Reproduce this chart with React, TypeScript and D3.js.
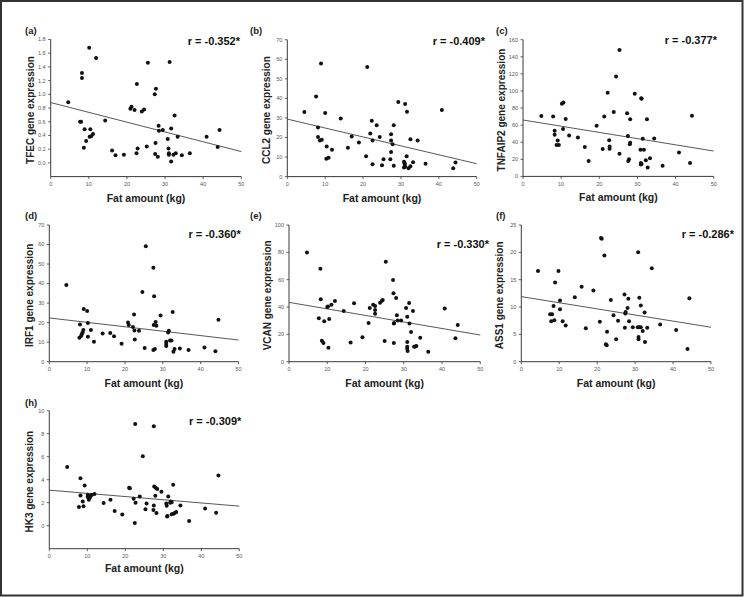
import React from 'react';
import * as d3 from 'd3';

type Pt = [number, number];

const panelLabels = ['(a)', '(b)', '(c)', '(d)', '(e)', '(f)', '(h)'];
const geneNames = ['TFEC', 'CCL2', 'TNFAIP2', 'IRF1', 'VCAN', 'ASS1', 'HK3'];
const rTexts = ['r = -0.352*', 'r = -0.409*', 'r = -0.377*', 'r = -0.360*', 'r = -0.330*', 'r = -0.286*', 'r = -0.309*'];
const yDomains: [number, number][] = [[-0.2, 1.8], [0, 70], [0, 160], [0, 70], [0, 100], [0, 25], [-2, 10]];
const yTickValues: number[][] = [
  [0, 0.2, 0.4, 0.6, 0.8, 1.0, 1.2, 1.4, 1.6, 1.8],
  [0, 10, 20, 30, 40, 50, 60, 70],
  [0, 20, 40, 60, 80, 100, 120, 140, 160],
  [0, 10, 20, 30, 40, 50, 60, 70],
  [0, 20, 40, 60, 80, 100],
  [0, 5, 10, 15, 20, 25],
  [0, 2, 4, 6, 8, 10],
];
const yTickFormats = ['.1f', 'd', 'd', 'd', 'd', 'd', 'd'];
const xTickValues = [0, 10, 20, 30, 40, 50];
const xLabel = 'Fat amount (kg)';
// regression line value at x = 0 and at x = 50
const fitAt0 = [0.88, 29.4, 66, 22.4, 43.4, 11.9, 3.09];
const fitAt50 = [0.165, 6.6, 29.7, 11.1, 19.5, 6.3, 1.7];

const tfec: Pt[] = [[4.6,0.885],[7.7,0.60],[8.0,0.60],[8.2,1.31],[8.2,1.24],[8.7,0.22],[8.9,0.49],[9.3,0.32],[10.1,1.68],[10.2,0.38],[10.4,0.49],[10.6,0.39],[11.1,0.42],[11.9,1.53],[14.3,0.62],[16.1,0.18],[17.0,0.11],[19.2,0.12],[20.9,0.79],[21.2,0.82],[22.0,0.77],[22.5,0.14],[22.6,1.15],[22.8,0.21],[23.9,0.75],[24.5,0.78],[25.2,0.24],[25.5,1.46],[27.3,1.00],[27.4,0.13],[27.5,0.29],[27.6,1.08],[28.1,0.09],[28.3,0.54],[28.4,0.47],[29.4,0.48],[30.7,0.35],[30.9,0.21],[31.0,0.14],[31.0,0.12],[31.2,1.47],[31.6,0.50],[31.6,0.02],[32.2,0.12],[32.5,0.69],[32.8,0.14],[33.3,0.38],[34.4,0.11],[36.5,0.14],[40.9,0.38],[43.8,0.23],[44.3,0.48]];
const ccl2: Pt[] = [[4.5,33.0],[7.6,40.9],[8.1,25.1],[8.1,20.2],[8.9,57.8],[8.6,18.5],[9.1,18.9],[10.0,32.5],[10.4,15.4],[10.3,9.1],[10.9,9.6],[11.8,13.7],[14.1,29.7],[16.0,14.7],[17.0,20.5],[18.9,17.4],[20.8,10.4],[21.1,56.1],[21.9,22.1],[22.3,28.5],[22.5,18.5],[22.5,6.3],[23.6,26.3],[24.4,20.3],[25.4,8.9],[25.0,5.8],[27.4,21.7],[27.4,18.5],[27.4,12.6],[27.2,8.9],[27.8,16.6],[28.1,26.3],[28.1,5.5],[29.3,38.2],[31.1,37.1],[31.6,33.2],[31.5,10.4],[30.8,7.6],[31.0,6.8],[31.0,6.0],[30.8,4.6],[31.1,5.0],[32.0,4.3],[32.5,5.3],[33.2,7.3],[32.5,19.1],[34.4,18.4],[36.5,6.6],[40.8,34.1],[43.8,4.3],[44.4,7.2]];
const tnfaip2: Pt[] = [[4.8,70.6],[7.9,70.2],[8.3,53.5],[8.3,48.7],[9.1,41.9],[8.8,36.8],[9.4,36.8],[10.2,85.0],[10.6,86.5],[10.5,55.5],[11.2,67.2],[12.1,47.9],[14.4,45.5],[16.2,34.3],[17.2,18.0],[19.3,59.2],[20.9,32.0],[21.3,70.1],[22.2,97.8],[22.6,42.2],[22.7,35.0],[22.7,32.5],[25.3,148.0],[23.8,75.5],[24.4,116.8],[25.3,26.6],[27.3,74.0],[28.1,66.8],[27.5,47.2],[27.6,17.9],[27.8,20.0],[28.0,37.5],[28.1,39.5],[29.3,96.8],[31.0,91.5],[31.1,90.8],[32.5,67.0],[31.4,44.0],[34.4,44.5],[30.8,31.3],[31.7,31.3],[33.3,21.2],[32.2,18.8],[30.9,15.6],[30.9,13.8],[31.1,14.5],[32.7,10.5],[36.6,12.5],[40.9,28.0],[43.8,15.6],[44.3,71.0]];
const irf1: Pt[] = [[4.5,39.3],[7.95,12.3],[8.1,19.1],[8.4,13.1],[8.6,14.0],[8.8,14.9],[9.1,27.0],[9.0,16.2],[10.0,26.0],[10.2,19.8],[10.2,12.8],[11.0,16.2],[11.8,10.2],[14.1,14.5],[16.1,14.7],[17.1,13.0],[19.1,9.2],[20.8,20.1],[21.0,18.8],[22.4,24.2],[22.1,17.8],[22.5,16.0],[22.6,11.4],[23.7,15.9],[24.6,35.7],[25.5,59.1],[25.2,7.0],[27.5,48.1],[27.7,33.5],[27.6,18.8],[28.1,20.3],[28.3,18.4],[27.5,6.0],[27.9,6.5],[29.4,23.7],[30.9,10.2],[30.9,9.0],[30.9,8.0],[31.4,15.0],[31.6,15.9],[31.9,10.8],[32.3,10.8],[32.6,25.4],[32.8,5.1],[33.1,6.5],[34.5,6.8],[36.8,6.0],[41.0,7.3],[43.9,5.3],[44.7,21.5]];
const vcan: Pt[] = [[4.7,79.8],[8.2,68.0],[8.3,45.6],[7.8,31.7],[8.6,15.4],[9.0,13.7],[9.2,29.5],[10.0,40.0],[10.2,40.3],[10.5,31.2],[10.3,10.2],[11.1,41.7],[12.0,44.4],[14.3,37.1],[16.1,14.1],[17.0,42.7],[19.2,17.8],[20.8,28.3],[21.1,39.3],[22.0,41.7],[22.5,40.7],[22.5,37.8],[22.5,35.1],[23.8,43.2],[24.3,44.6],[24.5,45.1],[25.3,73.2],[25.0,15.1],[27.2,59.8],[27.3,50.0],[28.0,46.6],[27.4,28.0],[27.5,28.3],[27.4,13.7],[28.2,33.9],[28.4,30.2],[29.3,30.2],[30.6,39.3],[30.9,32.9],[30.9,14.4],[30.9,11.0],[30.9,9.5],[31.0,7.8],[31.4,42.9],[31.5,28.0],[31.9,21.7],[32.4,37.1],[32.7,11.0],[33.0,11.2],[33.3,11.5],[34.3,17.6],[36.4,7.3],[40.7,39.0],[43.5,17.1],[44.1,26.8]];
const ass1: Pt[] = [[4.4,16.6],[7.6,8.7],[8.1,8.7],[7.9,7.4],[8.5,10.2],[8.9,14.5],[8.7,7.6],[9.8,16.6],[10.2,11.2],[10.2,9.6],[10.9,7.4],[11.7,6.6],[14.1,11.8],[15.9,13.7],[17.0,6.1],[19.0,13.0],[20.7,7.3],[21.0,22.6],[21.2,22.5],[21.9,19.4],[22.6,5.5],[22.3,3.2],[22.5,3.0],[23.6,11.3],[24.3,8.5],[25.0,4.1],[25.5,7.5],[27.2,12.3],[27.4,8.8],[27.5,9.1],[27.3,6.2],[28.0,9.8],[28.2,11.5],[28.4,7.4],[29.4,6.3],[30.8,20.0],[30.7,6.3],[31.0,6.3],[30.9,4.5],[30.9,4.1],[31.1,11.7],[31.5,10.3],[31.5,6.3],[32.0,5.6],[32.5,9.0],[32.6,3.6],[33.2,6.2],[34.4,17.1],[36.6,6.8],[40.8,5.8],[43.8,2.3],[44.3,11.6]];
const hk3: Pt[] = [[4.7,5.1],[7.8,1.62],[8.2,4.13],[8.2,2.63],[8.8,2.1],[9.0,1.7],[9.3,3.5],[10.1,2.7],[10.1,2.5],[10.4,2.25],[10.7,2.45],[10.9,2.6],[11.2,2.7],[11.9,2.75],[14.3,1.97],[16.1,2.25],[17.2,1.27],[19.2,0.98],[21.0,3.3],[21.2,3.25],[22.2,2.34],[22.5,0.23],[22.7,2.0],[22.6,8.84],[23.8,2.55],[24.6,6.04],[25.3,1.42],[25.6,1.94],[27.4,1.36],[27.5,1.76],[27.6,3.4],[28.0,3.3],[28.4,3.2],[27.9,2.6],[28.2,1.1],[27.5,8.64],[29.5,2.95],[30.8,1.94],[30.9,1.73],[31.0,0.8],[31.1,0.85],[31.3,2.54],[31.8,2.0],[32.0,2.1],[32.2,2.05],[32.2,1.0],[32.7,1.05],[33.0,1.1],[33.4,1.2],[32.6,3.56],[34.5,1.76],[36.8,0.4],[41.0,1.5],[43.9,1.13],[44.5,4.36]];

const panelData: Pt[][] = [tfec, ccl2, tnfaip2, irf1, vcan, ass1, hk3];

// layout (pixels)
const layout = [
  { x0: 50.7, x1: 241.3, y0: 39.5, y1: 176.6, lab: [25, 33.5], rt: [240, 44.5], yt: 30, xt: 25 },
  { x0: 287.3, x1: 476.7, y0: 39.7, y1: 176.6, lab: [250, 33.5], rt: [485, 44.5], yt: 266.3, xt: 25 },
  { x0: 523, x1: 713.7, y0: 39.7, y1: 176.4, lab: [496, 33.5], rt: [717, 44], yt: 501.3, xt: 25 },
  { x0: 49.3, x1: 238.5, y0: 225, y1: 361.7, lab: [25, 218.5], rt: [240.7, 238.3], yt: 29, xt: 25 },
  { x0: 289, x1: 480.3, y0: 225, y1: 361.7, lab: [250, 218.5], rt: [489, 248], yt: 267, xt: 25 },
  { x0: 521.3, x1: 711, y0: 225, y1: 361.7, lab: [496, 218.5], rt: [734, 238.3], yt: 499.7, xt: 25 },
  { x0: 49.3, x1: 239.3, y0: 410.7, y1: 548.7, lab: [25, 405.5], rt: [241.3, 425], yt: 29, xt: 23 },
];

const FONT = 'Liberation Sans, Arial, sans-serif';

function Panel({ i }: { i: number }) {
  const L = layout[i];
  const x = d3.scaleLinear().domain([0, 50]).range([L.x0, L.x1]);
  const y = d3.scaleLinear().domain(yDomains[i]).range([L.y1, L.y0]);
  const fmt = d3.format(yTickFormats[i]);
  const axisColor = '#3a3a3a';
  return (
    <g>
      <text x={L.lab[0]} y={L.lab[1]} fontFamily={FONT} fontSize={9.5} fontWeight="bold" fill="#222">{panelLabels[i]}</text>
      <text x={L.rt[0]} y={L.rt[1]} textAnchor="end" fontFamily={FONT} fontSize={11} fontWeight="bold" fill="#111">{rTexts[i]}</text>
      <line x1={L.x0} x2={L.x0} y1={L.y0} y2={L.y1} stroke={axisColor} strokeWidth={1} />
      <line x1={L.x0} x2={L.x1} y1={L.y1} y2={L.y1} stroke={axisColor} strokeWidth={1} />
      {yTickValues[i].map((t) => (
        <g key={'y' + t}>
          <line x1={L.x0 - 2.5} x2={L.x0} y1={y(t)} y2={y(t)} stroke={axisColor} strokeWidth={0.8} />
          <text x={L.x0 - 5} y={y(t) + 1.9} textAnchor="end" fontFamily={FONT} fontSize={5.5} fill="#555">{fmt(t)}</text>
        </g>
      ))}
      {xTickValues.map((t) => (
        <g key={'x' + t}>
          <line x1={x(t)} x2={x(t)} y1={L.y1} y2={L.y1 + 2.5} stroke={axisColor} strokeWidth={0.8} />
          <text x={x(t)} y={L.y1 + 9.5} textAnchor="middle" fontFamily={FONT} fontSize={5.5} fill="#555">{t}</text>
        </g>
      ))}
      <text x={(L.x0 + L.x1) / 2} y={L.y1 + L.xt} textAnchor="middle" fontFamily={FONT} fontSize={10.5} fontWeight="bold" fill="#222">{xLabel}</text>
      <text transform={`translate(${L.yt},${(L.y0 + L.y1) / 2 + 2}) rotate(-90)`} x={0} y={3.6} textAnchor="middle" fontFamily={FONT} fontSize={10} fontWeight="bold" fill="#222">{geneNames[i] + ' gene expression'}</text>
      <line x1={x(0)} y1={y(fitAt0[i])} x2={x(50)} y2={y(fitAt50[i])} stroke="#444" strokeWidth={0.9} />
      {panelData[i].map((p, k) => (
        <circle key={k} cx={x(p[0])} cy={y(p[1])} r={2} fill="#111" />
      ))}
    </g>
  );
}

export default function App() {
  return (
    <svg width={744} height={597} style={{ position: 'absolute', left: 0, top: 0, background: '#fff' }}>
      <rect x={0} y={0} width={744} height={597} fill="#fff" />
      <rect x={1} y={1} width={741.5} height={594.5} fill="none" stroke="#333" strokeWidth={2} />
      {panelData.map((_, i) => (
        <Panel key={i} i={i} />
      ))}
    </svg>
  );
}
